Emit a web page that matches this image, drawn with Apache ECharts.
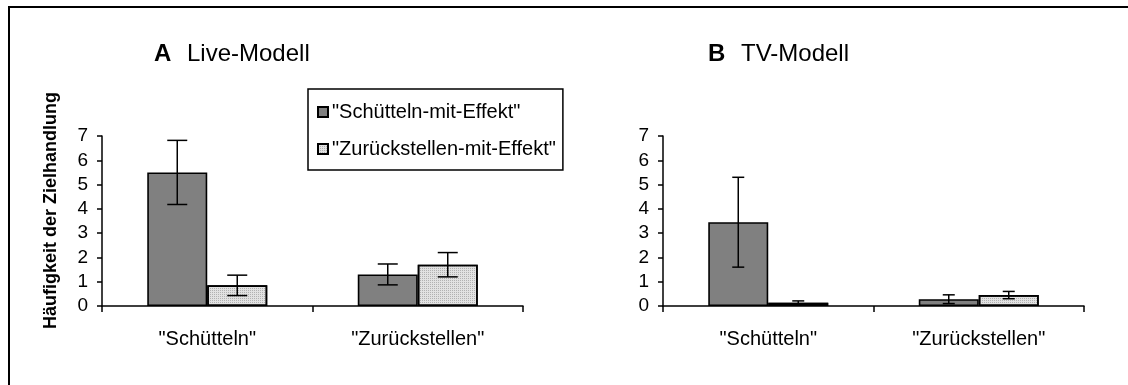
<!DOCTYPE html>
<html><head><meta charset="utf-8">
<script src="https://cdn.jsdelivr.net/npm/echarts@6/dist/echarts.min.js"></script>
<style>html,body{margin:0;padding:0;background:#fff}#c{width:1128px;height:385px}</style>
</head><body><div id="c"></div>
<script>
const categories = ['"Schütteln"', '"Zurückstellen"'];
const seriesNames = ['"Schütteln-mit-Effekt"', '"Zurückstellen-mit-Effekt"'];
const yTicks = [0, 1, 2, 3, 4, 5, 6, 7];
// Live-Modell
const liveShake = [5.5, 1.3];
const liveShakeErr = [1.32, 0.43];
const liveReturn = [0.85, 1.7];
const liveReturnErr = [0.42, 0.5];
// TV-Modell
const tvShake = [3.45, 0.28];
const tvShakeErr = [1.85, 0.18];
const tvReturn = [0.13, 0.45];
const tvReturnErr = [0.08, 0.15];

const FONT = 'Liberation Sans, Arial, sans-serif';
const GAP = 0.43;
const DARK = '#808080';
const LIGHT = '#e2e2e2';
const LIGHT_DECAL = { symbol: 'rect', symbolSize: 1, dashArrayX: [1, 1], dashArrayY: [1, 1], color: 'rgba(120,120,120,0.45)', rotation: 0 };

function errRender(side, cap) {
  return function (params, api) {
    const x = api.value(0), v = api.value(1), e = api.value(2);
    const c = api.coord([x, v]);
    const hi = api.coord([x, v + e]);
    const lo = api.coord([x, Math.max(0, v - e)]);
    const band = api.size([1, 0])[0];
    const bw = band * (1 - GAP) / 2;
    const cx = c[0] + side * bw / 2;
    const st = { stroke: '#000', lineWidth: 1.5 };
    return { type: 'group', children: [
      { type: 'line', shape: { x1: cx, y1: hi[1], x2: cx, y2: lo[1] }, style: st },
      { type: 'line', shape: { x1: cx - cap, y1: hi[1], x2: cx + cap, y2: hi[1] }, style: st },
      { type: 'line', shape: { x1: cx - cap, y1: lo[1], x2: cx + cap, y2: lo[1] }, style: st }
    ]};
  };
}
function errData(vals, errs) { return vals.map((v, i) => [i, v, errs[i]]); }

const xAxisBase = {
  type: 'category', data: categories,
  axisLine: { lineStyle: { color: '#000', width: 1.5 } },
  axisTick: { show: true, inside: false, length: 6, alignWithLabel: false, lineStyle: { color: '#000', width: 1.5 } },
  axisLabel: { color: '#000', fontFamily: FONT, fontSize: 20, margin: 23 },
  splitLine: { show: false }
};
const yAxisBase = {
  type: 'value', min: 0, max: 7, interval: 1,
  axisLine: { show: true, lineStyle: { color: '#000', width: 1.5 } },
  axisTick: { show: true, length: 5, lineStyle: { color: '#000', width: 1.5 } },
  axisLabel: { color: '#000', fontFamily: FONT, fontSize: 19, margin: 14,
    formatter: v => yTicks.indexOf(v) >= 0 ? String(v) : '' },
  splitLine: { show: false }
};
const barStyle = (col, decal) => Object.assign({ color: col, borderColor: '#000', borderWidth: 1.6 }, decal ? { decal: decal } : {});

const option = {
  animation: false,
  backgroundColor: '#fff',
  graphic: [
    { type: 'rect', shape: { x: 9, y: 7, width: 1300, height: 600 }, style: { fill: 'none', stroke: '#000', lineWidth: 2 }, silent: true },
    { type: 'text', left: 154, top: 42, style: { text: 'A', font: 'bold 24px ' + FONT, fill: '#000' } },
    { type: 'text', left: 187, top: 42, style: { text: 'Live-Modell', font: '24px ' + FONT, fill: '#000' } },
    { type: 'text', left: 708, top: 42, style: { text: 'B', font: 'bold 24px ' + FONT, fill: '#000' } },
    { type: 'text', left: 741, top: 42, style: { text: 'TV-Modell', font: '24px ' + FONT, fill: '#000' } },
    { type: 'text', x: 51, y: 329, rotation: Math.PI / 2,
      style: { text: 'Häufigkeit der Zielhandlung', font: 'bold 18px ' + FONT, fill: '#000', align: 'left', verticalAlign: 'middle' } }
  ],
  legend: {
    data: seriesNames, orient: 'vertical', left: 308, top: 89,
    backgroundColor: '#fff',
    borderColor: '#000', borderWidth: 1.5, padding: [13, 7, 11, 9],
    itemGap: 17, itemWidth: 10, itemHeight: 10, icon: 'rect',
    textStyle: { color: '#000', fontFamily: FONT, fontSize: 20, padding: [0, 0, 0, -1] }
  },
  grid: [
    { left: 102, top: 136, width: 421, height: 170, containLabel: false },
    { left: 663, top: 136, width: 421, height: 170, containLabel: false }
  ],
  xAxis: [ Object.assign({ gridIndex: 0 }, xAxisBase), Object.assign({ gridIndex: 1 }, xAxisBase) ],
  yAxis: [ Object.assign({ gridIndex: 0 }, yAxisBase), Object.assign({ gridIndex: 1 }, yAxisBase) ],
  series: [
    { name: seriesNames[0], type: 'bar', xAxisIndex: 0, yAxisIndex: 0, data: liveShake, barGap: '0%', barCategoryGap: (GAP * 100) + '%', itemStyle: barStyle(DARK) },
    { name: seriesNames[1], type: 'bar', xAxisIndex: 0, yAxisIndex: 0, data: liveReturn, barGap: '0%', barCategoryGap: (GAP * 100) + '%', itemStyle: barStyle(LIGHT, LIGHT_DECAL) },
    { name: seriesNames[0], type: 'bar', xAxisIndex: 1, yAxisIndex: 1, data: tvShake, barGap: '0%', barCategoryGap: (GAP * 100) + '%', itemStyle: barStyle(DARK) },
    { name: seriesNames[1], type: 'bar', xAxisIndex: 1, yAxisIndex: 1, data: tvReturn, barGap: '0%', barCategoryGap: (GAP * 100) + '%', itemStyle: barStyle(LIGHT, LIGHT_DECAL) },
    { name: 'errLiveShake', type: 'custom', xAxisIndex: 0, yAxisIndex: 0, renderItem: errRender(-1, 10), data: errData(liveShake, liveShakeErr), encode: { x: 0, y: 1 }, z: 5 },
    { name: 'errLiveReturn', type: 'custom', xAxisIndex: 0, yAxisIndex: 0, renderItem: errRender(1, 10), data: errData(liveReturn, liveReturnErr), encode: { x: 0, y: 1 }, z: 5 },
    { name: 'errTvShake', type: 'custom', xAxisIndex: 1, yAxisIndex: 1, renderItem: errRender(-1, 6), data: errData(tvShake, tvShakeErr), encode: { x: 0, y: 1 }, z: 5 },
    { name: 'errTvReturn', type: 'custom', xAxisIndex: 1, yAxisIndex: 1, renderItem: errRender(1, 6), data: errData(tvReturn, tvReturnErr), encode: { x: 0, y: 1 }, z: 5 }
  ]
};
const chart = echarts.init(document.getElementById('c'), null, { renderer: 'canvas' });
chart.setOption(option);
</script></body></html>
